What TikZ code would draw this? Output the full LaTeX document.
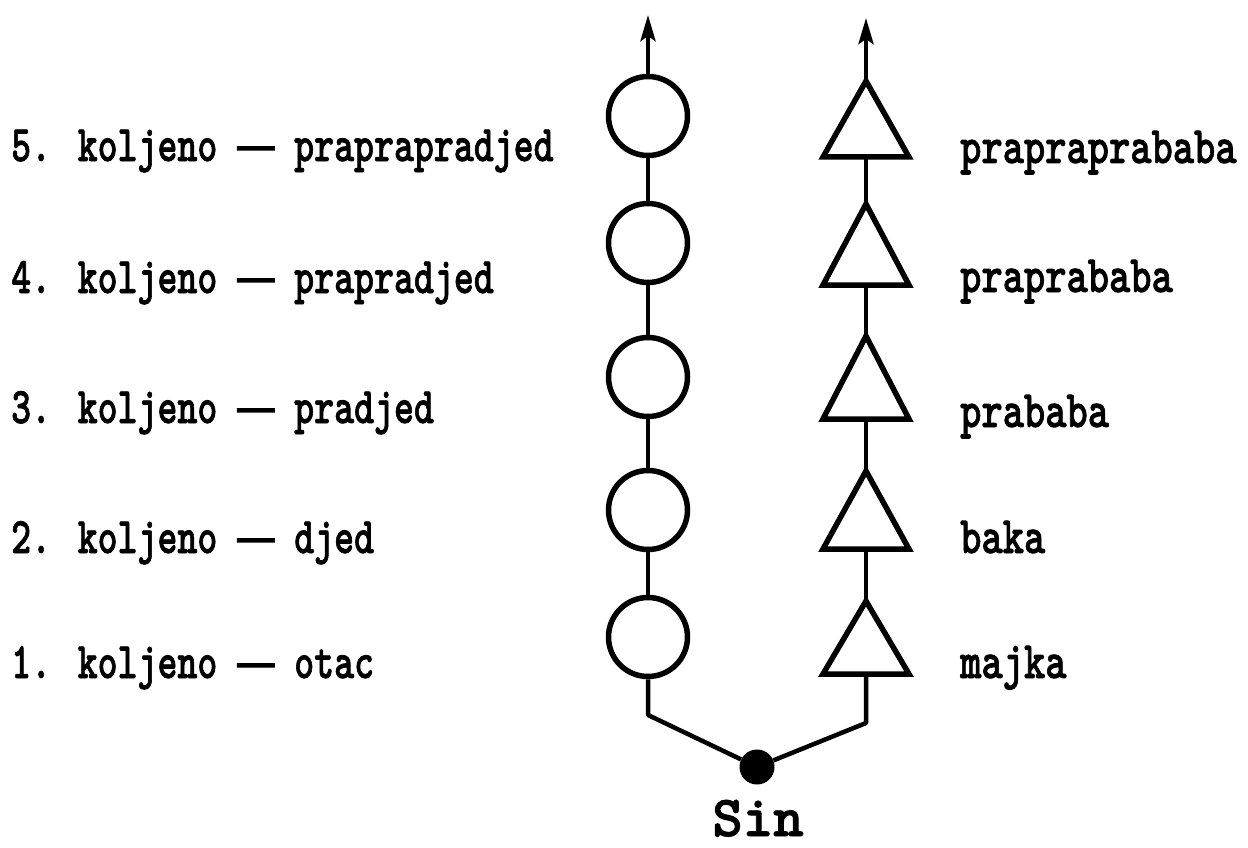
\documentclass[tikz,border=0pt]{standalone}
\usepackage{fontspec}
\usetikzlibrary{arrows.meta}
\newfontfamily\labfont{lmmonolt10-bold.otf}[FakeBold=1.5]
\newfontfamily\sinfont{lmmonolt10-bold.otf}[FakeBold=1.5]
\newfontfamily\dashfont{Liberation Sans}[FakeBold=2.5]
\newcommand\ldash{{\dashfont\fontsize{37}{37}\selectfont —}}
\tikzset{
  lnk/.style={line width=4.5pt},
  gen/.style={circle, draw, line width=5.5pt, minimum size=79pt, inner sep=0pt},
  tri/.style={line width=5.5pt, line join=miter},
  lab/.style={anchor=base west, inner sep=0pt, font=\labfont\fontsize{38}{38}\selectfont},
  rlab/.style={lab, font=\labfont\fontsize{40.5}{40.5}\selectfont},
  arr/.style={-{Stealth[length=26pt,width=15pt,inset=5pt]}, line width=4.5pt},
  dot/.style={circle, fill, inner sep=0pt, minimum size=35pt},
}
\begin{document}
\begin{tikzpicture}[x=1pt,y=-1pt]
\useasboundingbox (0,0) rectangle (1248,848);
% left column: circles
\node[gen] (c5) at (648,116) {};
\node[gen] (c4) at (648,243) {};
\node[gen] (c3) at (648,377) {};
\node[gen] (c2) at (648,510) {};
\node[gen] (c1) at (648,637) {};
% right column: triangles
\foreach \n/\ya/\yb in {5/81/157, 4/204/285, 3/336/419, 2/471/549, 1/601/674} {
  \draw[tri] (866-43,\yb) -- (866,\ya) -- (866+43,\yb) -- cycle;
  \coordinate (ta\n) at (866,\ya);
  \coordinate (tb\n) at (866,\yb);
}
% arrows upward
\coordinate (up1) at (648,15);
\coordinate (up2) at (866,18);
\draw[arr] (c5.north) -- (up1);
\draw[arr] (ta5) -- (up2);
% chain connectors
\draw[lnk] (c5.south) -- (c4.north);
\draw[lnk] (c4.south) -- (c3.north);
\draw[lnk] (c3.south) -- (c2.north);
\draw[lnk] (c2.south) -- (c1.north);
\draw[lnk] (tb5) -- (ta4);
\draw[lnk] (tb4) -- (ta3);
\draw[lnk] (tb3) -- (ta2);
\draw[lnk] (tb2) -- (ta1);
% son
\node[dot] (sin) at (757,767) {};
\coordinate (cl) at (648,715);
\coordinate (cr) at (866,723);
\draw[lnk, line join=round] (c1.south) -- (cl) -- (sin);
\draw[lnk, line join=round] (tb1) -- (cr) -- (sin);
\node[anchor=base, inner sep=0pt, font=\sinfont\fontsize{58}{58}\selectfont] (sinlab) at (758,836) {Sin};
% left labels
\node[lab] (l5) at (11,161) {\scalebox{1}[1.35]{5. koljeno \ldash{} praprapradjed}};
\node[lab] (l4) at (11,293) {\scalebox{1}[1.35]{4. koljeno \ldash{} prapradjed}};
\node[lab] (l3) at (11,423) {\scalebox{1}[1.35]{3. koljeno \ldash{} pradjed}};
\node[lab] (l2) at (11,553) {\scalebox{1}[1.35]{2. koljeno \ldash{} djed}};
\node[lab] (l1) at (11,678) {\scalebox{1}[1.35]{1. koljeno \ldash{} otac}};
% right labels
\node[rlab] (r5) at (960,163) {\scalebox{1}[1.3]{prapraprababa}};
\node[rlab] (r4) at (960,292) {\scalebox{1}[1.3]{praprababa}};
\node[rlab] (r3) at (960,427) {\scalebox{1}[1.3]{prababa}};
\node[rlab] (r2) at (960,553) {\scalebox{1}[1.3]{baka}};
\node[rlab] (r1) at (960,678) {\scalebox{1}[1.3]{majka}};
\end{tikzpicture}
\end{document}
